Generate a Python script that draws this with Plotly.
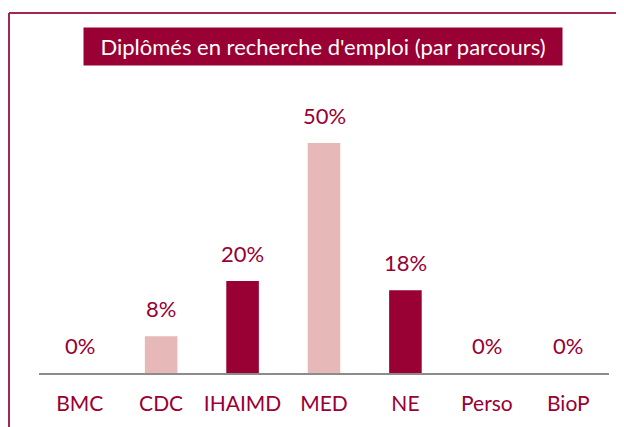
import plotly.graph_objects as go

# Data
categories = ["BMC", "CDC", "IHAIMD", "MED", "NE", "Perso", "BioP"]
values = [0, 8, 20, 50, 18, 0, 0]
value_labels = ["0%", "8%", "20%", "50%", "18%", "0%", "0%"]

DARK = "#990033"
PINK = "#E6B9B8"
bar_colors = [DARK, PINK, DARK, PINK, DARK, PINK, DARK]

W, H = 624, 427
OFF = 8  # page body margin shifts the figure by 8px
FONT = "Lato, 'Open Sans', sans-serif"

fig = go.Figure()
fig.add_trace(go.Bar(
    x=categories,
    y=values,
    marker=dict(color=bar_colors, line=dict(width=0)),
    hoverinfo="skip",
))

# value labels above the bars
annotations = [
    dict(x=c, y=v, text=t, xref="x", yref="y", showarrow=False,
         yanchor="bottom", yshift=12,
         font=dict(family=FONT, size=22, color=DARK))
    for c, v, t in zip(categories, values, value_labels)
]

# title box
annotations.append(dict(
    x=(323 - OFF) / W, y=1 - (47 - OFF) / H, xref="paper", yref="paper",
    text="Diplômés en recherche d'emploi (par parcours)",
    showarrow=False, xanchor="center", yanchor="middle",
    bgcolor=DARK, width=470, height=29, borderpad=4,
    font=dict(family=FONT, size=22, color="white"),
))

fig.update_layout(
    width=W, height=H,
    margin=dict(l=0, r=0, t=0, b=0),
    paper_bgcolor="white", plot_bgcolor="white",
    showlegend=False,
    bargap=0.6,
    annotations=annotations,
    shapes=[
        # chart frame (top and left edges visible, the rest is cropped)
        dict(type="line", xref="paper", yref="paper",
             x0=(9 - OFF) / W, x1=1.01, y0=1 - (13 - OFF) / H, y1=1 - (13 - OFF) / H,
             line=dict(color="#A3274F", width=2)),
        dict(type="line", xref="paper", yref="paper",
             x0=(9 - OFF) / W, x1=(9 - OFF) / W, y0=1 - (13 - OFF) / H, y1=-0.01,
             line=dict(color="#A3274F", width=2)),
    ],
)

base = H - (373 - OFF)
fig.update_xaxes(
    domain=[(39 - OFF) / W, (609 - OFF) / W],
    showline=True, linecolor="#8C8C8C", linewidth=2,
    ticks="", showgrid=False, zeroline=False,
    tickfont=dict(family=FONT, size=21, color=DARK),
    ticklabelstandoff=11,
)
fig.update_yaxes(
    domain=[base / H, (base + 322) / H],
    range=[0, 70],
    visible=False, showgrid=False, zeroline=False,
)

fig.write_html("out.html")
